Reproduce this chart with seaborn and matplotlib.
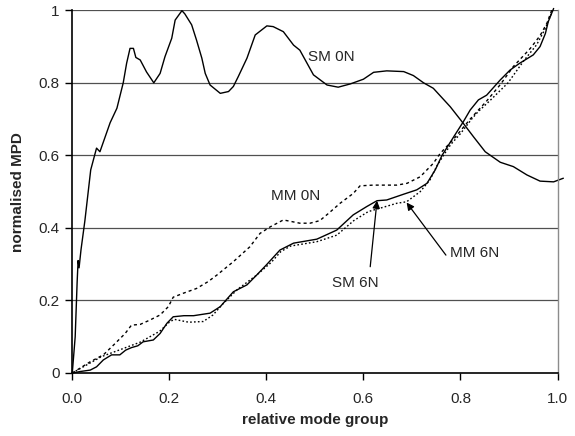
import matplotlib
matplotlib.use("Agg")
import matplotlib.pyplot as plt
import seaborn as sns
import pandas as pd

# ---------------- data ----------------
sm0n_x = [0, 0.006, 0.010, 0.012, 0.014, 0.018, 0.026, 0.038, 0.050, 0.057, 0.078, 0.092,
          0.105, 0.112, 0.119, 0.126, 0.131, 0.140, 0.153, 0.168, 0.181, 0.191, 0.205, 0.212,
          0.226, 0.232, 0.246, 0.256, 0.267, 0.274, 0.284, 0.305, 0.322, 0.332, 0.342, 0.360,
          0.377, 0.401, 0.414, 0.435, 0.456, 0.469, 0.497, 0.525, 0.548, 0.573, 0.600, 0.621,
          0.648, 0.683, 0.703, 0.724, 0.744, 0.779, 0.806, 0.827, 0.851, 0.882, 0.909, 0.937,
          0.964, 0.992, 1.012]
sm0n_y = [0, 0.10, 0.25, 0.31, 0.29, 0.34, 0.42, 0.56, 0.62, 0.61, 0.69, 0.73,
          0.80, 0.854, 0.895, 0.895, 0.87, 0.863, 0.83, 0.80, 0.826, 0.872, 0.923, 0.973,
          0.999, 0.99, 0.96, 0.918, 0.868, 0.826, 0.794, 0.771, 0.776, 0.79, 0.817, 0.868,
          0.932, 0.957, 0.955, 0.941, 0.904, 0.89, 0.822, 0.794, 0.788, 0.797, 0.81, 0.829,
          0.833, 0.831, 0.82, 0.80, 0.785, 0.734, 0.688, 0.651, 0.61, 0.581, 0.569, 0.546,
          0.529, 0.527, 0.537]

sm6n_x = [0, 0.016, 0.037, 0.050, 0.064, 0.081, 0.098, 0.110, 0.122, 0.135, 0.146, 0.167,
          0.181, 0.195, 0.208, 0.230, 0.250, 0.284, 0.305, 0.332, 0.360, 0.380, 0.400, 0.428,
          0.456, 0.504, 0.545, 0.579, 0.607, 0.628, 0.648, 0.683, 0.710, 0.731, 0.748, 0.762,
          0.786, 0.806, 0.820, 0.837, 0.854, 0.882, 0.902, 0.922, 0.950, 0.964, 0.975, 0.981,
          0.992]
sm6n_y = [0, 0.004, 0.008, 0.017, 0.036, 0.050, 0.050, 0.063, 0.070, 0.075, 0.086, 0.091,
          0.109, 0.137, 0.155, 0.158, 0.158, 0.165, 0.183, 0.224, 0.243, 0.270, 0.298, 0.339,
          0.358, 0.369, 0.394, 0.436, 0.459, 0.475, 0.477, 0.493, 0.505, 0.523, 0.560, 0.600,
          0.651, 0.693, 0.725, 0.753, 0.766, 0.808, 0.835, 0.854, 0.877, 0.900, 0.936, 0.969,
          1.005]

mm6n_x = [0, 0.02, 0.04, 0.06, 0.08, 0.10, 0.12, 0.14, 0.16, 0.18, 0.20, 0.21, 0.24, 0.27,
          0.29, 0.31, 0.34, 0.36, 0.38, 0.41, 0.43, 0.45, 0.504, 0.545, 0.58, 0.61, 0.641,
          0.669, 0.689, 0.717, 0.737, 0.751, 0.765, 0.78, 0.80, 0.823, 0.836, 0.86, 0.898,
          0.93, 0.957, 0.975, 0.99]
mm6n_y = [0, 0.015, 0.03, 0.045, 0.055, 0.065, 0.075, 0.085, 0.10, 0.115, 0.14, 0.148,
          0.14, 0.142, 0.16, 0.19, 0.23, 0.25, 0.27, 0.305, 0.335, 0.35, 0.362, 0.38, 0.42,
          0.445, 0.457, 0.468, 0.472, 0.50, 0.532, 0.57, 0.60, 0.63, 0.66, 0.70, 0.72, 0.75,
          0.80, 0.86, 0.905, 0.95, 1.0]

mm0n_x = [0, 0.037, 0.064, 0.085, 0.109, 0.122, 0.140, 0.160, 0.181, 0.198, 0.208, 0.229,
          0.256, 0.280, 0.298, 0.332, 0.366, 0.387, 0.408, 0.435, 0.469, 0.490, 0.510, 0.528,
          0.552, 0.579, 0.593, 0.620, 0.669, 0.690, 0.717, 0.744, 0.758, 0.786, 0.820, 0.854,
          0.882, 0.909, 0.944, 0.964, 0.978, 0.988]
mm0n_y = [0, 0.031, 0.050, 0.077, 0.109, 0.132, 0.134, 0.146, 0.160, 0.183, 0.209, 0.220,
          0.233, 0.252, 0.270, 0.307, 0.348, 0.385, 0.403, 0.422, 0.413, 0.413, 0.420, 0.440,
          0.468, 0.495, 0.516, 0.518, 0.518, 0.523, 0.541, 0.578, 0.605, 0.645, 0.700, 0.750,
          0.795, 0.845, 0.895, 0.930, 0.964, 1.000]

x_ticks = [0.0, 0.2, 0.4, 0.6, 0.8, 1.0]
x_tick_labels = ["0.0", "0.2", "0.4", "0.6", "0.8", "1.0"]
y_ticks = [0, 0.2, 0.4, 0.6, 0.8, 1.0]
y_tick_labels = ["0", "0.2", "0.4", "0.6", "0.8", "1"]

# ---------------- plotting ----------------
sns.set_style("ticks")
plt.rcParams["font.family"] = ["Liberation Sans", "DejaVu Sans"]

fig = plt.figure(figsize=(5.75, 4.36), dpi=100)
ax = fig.add_axes([0.1257, 0.1445, 0.9696 - 0.1257, 0.9764 - 0.1445])

series = [
    (sm0n_x, sm0n_y, "-"),
    (sm6n_x, sm6n_y, "-"),
    (mm0n_x, mm0n_y, (0, (2.2, 2.2))),
    (mm6n_x, mm6n_y, (0, (1.2, 1.6))),
]
for xs, ys, ls in series:
    df = pd.DataFrame({"x": xs, "y": ys})
    sns.lineplot(data=df, x="x", y="y", ax=ax, sort=False, estimator=None,
                 color="black", linewidth=1.0, linestyle=ls, clip_on=False)

ax.set_xlim(0, 1.0)
ax.set_ylim(0, 1.0)
ax.set_xticks(x_ticks)
ax.set_xticklabels(x_tick_labels)
ax.set_yticks(y_ticks)
ax.set_yticklabels(y_tick_labels)
ax.tick_params(axis="both", direction="out", length=5, width=1, color="black",
               labelsize=11, pad=4)
ax.tick_params(axis="x", pad=9)

for v in y_ticks[1:]:
    ax.axhline(v, color="#505050", linewidth=0.9, zorder=0)

for s in ["left", "bottom"]:
    ax.spines[s].set_color("black")
    ax.spines[s].set_linewidth(1.2)
ax.spines["top"].set_visible(False)
ax.spines["right"].set_visible(True)
ax.spines["right"].set_color("#8c8c8c")
ax.spines["right"].set_linewidth(1.0)

ax.set_xlabel("relative mode group", fontsize=11, fontweight="bold", labelpad=5)
ax.set_ylabel("normalised MPD", fontsize=11, fontweight="bold", labelpad=10)

# labels
ax.text(0.534, 0.87, "SM 0N", fontsize=11, ha="center", va="center")
ax.text(0.46, 0.489, "MM 0N", fontsize=11, ha="center", va="center")
ax.text(0.584, 0.249, "SM 6N", fontsize=11, ha="center", va="center")
ax.text(0.83, 0.33, "MM 6N", fontsize=11, ha="center", va="center")

arrow = dict(arrowstyle="-|>", color="black", lw=0.9, mutation_scale=11,
             shrinkA=0, shrinkB=0)
ax.annotate("", xy=(0.628, 0.475), xytext=(0.614, 0.293), arrowprops=arrow)
ax.annotate("", xy=(0.689, 0.470), xytext=(0.77, 0.325), arrowprops=arrow)

fig.savefig("out.png", dpi=100)
